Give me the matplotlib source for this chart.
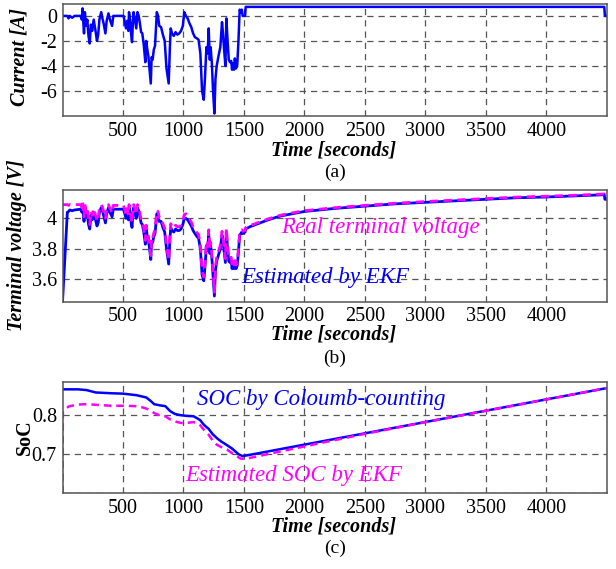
import matplotlib
matplotlib.use("Agg")
import matplotlib.pyplot as plt

plt.rcParams['font.family'] = ['Liberation Serif', 'DejaVu Serif']

# ---------------- data ----------------
cur_t = [0, 40, 50, 60, 80, 100, 150, 160, 166, 172, 178, 185, 195, 205, 215, 225, 235, 245, 258, 270,
         285, 295, 305, 320, 330, 340, 355, 365, 380, 392, 410, 420, 505, 515, 525, 535, 545, 550, 560, 568,
         575, 582, 588, 600, 610, 620, 630, 640, 650, 660, 672, 685, 692, 700, 710, 720, 730, 737, 745, 755,
         765, 780, 790, 800, 815, 830, 845, 860, 878, 888, 895, 905, 920, 935, 950, 965, 980, 995, 1007, 1020,
         1035, 1050, 1065, 1080, 1095, 1112, 1125, 1140, 1154, 1168, 1178, 1190, 1200, 1209, 1218, 1225, 1235, 1245, 1256, 1265,
         1275, 1290, 1305, 1319, 1328, 1335, 1347, 1355, 1365, 1375, 1385, 1395, 1402, 1410, 1418, 1425, 1435, 1445, 1455, 1465,
         1475, 1482, 1490, 1510, 1515, 4480, 4485, 4500]
cur_a = [0, 0, -0.2, 0, -0.15, 0, 0, -0.3, 0.6, -0.5, -1.4, 0.3, -0.8, -0.3, -1.6, -2.2, -0.7, -1.2, -0.3, -1.0,
         -2.0, -1.5, -0.3, 0.3, -0.2, -0.6, -1.4, -0.4, 0.2, -0.3, -0.8, 0, 0, -0.5, -1.0, -0.4, -1.2, 0.3, -0.4, -1.5,
         -2.1, -0.5, 0.3, -0.4, -1.0, 0.3, 0, -0.6, -1.3, -1.4, -2.3, -3.7, -2.0, -2.6, -3.2, -4.3, -5.4, -3.3, -3.5, -2.7,
         -2.4, 0.3, 0, -0.8, -0.9, -1.5, -2.0, -4.2, -5.4, -2.5, -1.0, -1.4, -1.6, -1.3, -1.5, -1.4, -1.2, -0.8, 0.3, 0.0,
         -0.2, -0.6, -0.9, -1.4, -1.7, -1.8, -1.9, -3.0, -6.0, -6.7, -5.0, -2.5, -3.0, -1.0, -3.5, -2.5, -3.8, -6.0, -7.8, -5.0,
         -4.0, -3.2, -2.5, -0.5, -1.5, -2.5, -4.0, -0.2, -2.0, -3.5, -3.7, -3.6, -4.3, -3.8, -4.3, -3.4, -4.2, -3.9, -2.0, 0.5,
         0.3, 0.5, 0.0, 0.0, 0.72, 0.72, 0, 0]

volt_t = cur_t[:-3] + [1550, 1600, 1700, 1800, 1900, 2000, 2250, 2500, 2750, 3000, 3250, 3500, 3750, 4000,
                       4250, 4480, 4485, 4500]
volt_est = [3.45, 4.04, 4.045, 4.055, 4.05, 4.055, 4.06, 4.04, 4.085, 4.03, 3.98, 4.07, 4.01, 4.04, 3.96, 3.93, 4.02, 3.99, 4.04, 4.0,
            3.95, 3.97, 4.04, 4.07, 4.05, 4.02, 3.97, 4.03, 4.07, 4.04, 4.01, 4.06, 4.06, 4.03, 4.0, 4.04, 3.99, 4.07, 4.03, 3.97,
            3.94, 4.03, 4.07, 4.03, 4.0, 4.07, 4.05, 4.01, 3.97, 3.96, 3.91, 3.83, 3.93, 3.89, 3.86, 3.80, 3.73, 3.85, 3.84, 3.88,
            3.90, 4.03, 4.02, 3.98, 3.98, 3.94, 3.91, 3.80, 3.70, 3.86, 3.94, 3.92, 3.91, 3.93, 3.92, 3.92, 3.93, 3.96, 4.00, 4.0,
            3.99, 3.97, 3.95, 3.92, 3.90, 3.88, 3.87, 3.80, 3.63, 3.59, 3.68, 3.82, 3.79, 3.90, 3.77, 3.82, 3.74, 3.62, 3.49, 3.66,
            3.72, 3.76, 3.80, 3.89, 3.84, 3.79, 3.71, 3.91, 3.80, 3.72, 3.71, 3.72, 3.67, 3.70, 3.67, 3.72, 3.67, 3.69, 3.78, 3.89,
            3.90, 3.91, 3.90, 3.91, 3.93,
            3.945, 3.96, 3.99, 4.015, 4.03, 4.045, 4.065, 4.08, 4.095, 4.105, 4.115, 4.125, 4.135, 4.14,
            4.148, 4.155, 4.125, 4.125]
volt_real = [4.09, 4.09, 4.085, 4.09, 4.085, 4.09, 4.09, 4.07, 4.105, 4.06, 4.01, 4.095, 4.04, 4.065, 3.99, 3.96, 4.045, 4.02, 4.065, 4.03,
             3.98, 4.0, 4.065, 4.09, 4.075, 4.045, 4.0, 4.055, 4.09, 4.065, 4.035, 4.085, 4.085, 4.055, 4.025, 4.065, 4.02, 4.09, 4.055, 4.0,
             3.97, 4.055, 4.09, 4.055, 4.025, 4.09, 4.075, 4.035, 3.995, 3.985, 3.935, 3.855, 3.955, 3.915, 3.885, 3.825, 3.755, 3.875, 3.865, 3.905,
             3.925, 4.05, 4.045, 4.005, 4.005, 3.965, 3.935, 3.825, 3.725, 3.885, 3.965, 3.945, 3.935, 3.955, 3.945, 3.945, 3.955, 3.985, 4.025, 4.03,
             4.015, 3.995, 3.975, 3.945, 3.925, 3.905, 3.895, 3.825, 3.655, 3.615, 3.705, 3.845, 3.815, 3.925, 3.795, 3.845, 3.765, 3.645, 3.515, 3.685,
             3.745, 3.785, 3.825, 3.915, 3.865, 3.815, 3.735, 3.935, 3.825, 3.745, 3.735, 3.745, 3.695, 3.725, 3.695, 3.745, 3.695, 3.715, 3.805, 3.915,
             3.92, 3.925, 3.915, 3.92, 3.94,
             3.952, 3.967, 3.996, 4.02, 4.036, 4.05, 4.07, 4.085, 4.099, 4.11, 4.12, 4.13, 4.139, 4.145,
             4.152, 4.16, 4.13, 4.13]

soc_cc_t = [0, 130, 200, 275, 400, 500, 613, 694, 730, 758, 806, 850, 891, 930, 974, 1030, 1084, 1113, 1139, 1170,
            1208, 1240, 1277, 1310, 1346, 1400, 1456, 1490, 4480, 4500]
soc_cc = [0.866, 0.866, 0.864, 0.858, 0.856, 0.855, 0.851, 0.845, 0.836, 0.828, 0.825, 0.823, 0.81, 0.803, 0.80, 0.798, 0.797, 0.792, 0.787, 0.775,
          0.765, 0.752, 0.741, 0.733, 0.726, 0.715, 0.70, 0.695, 0.868, 0.869]
soc_ekf_t = [0, 3, 50, 120, 200, 300, 400, 500, 600, 660, 700, 726, 760, 808, 850, 891, 950, 1001, 1050, 1084,
             1110, 1139, 1170, 1208, 1240, 1277, 1320, 1360, 1400, 1443, 1470, 1510, 2000, 2500, 3000, 3500, 4000, 4480, 4500]
soc_ekf = [0.60, 0.81, 0.822, 0.827, 0.828, 0.826, 0.824, 0.824, 0.823, 0.82, 0.816, 0.812, 0.805, 0.799, 0.797, 0.789, 0.782, 0.779, 0.781, 0.782,
           0.78, 0.774, 0.762, 0.75, 0.736, 0.724, 0.717, 0.712, 0.703, 0.695, 0.689, 0.688, 0.72, 0.752, 0.782, 0.811, 0.84, 0.868, 0.869]

xticks = [500, 1000, 1500, 2000, 2500, 3000, 3500, 4000]

# ---------------- figure ----------------
W, H = 616, 569
fig = plt.figure(figsize=(W / 100, H / 100), dpi=100)

def px_axes(left, top, right, bottom):
    return fig.add_axes([left / W, 1 - bottom / H, (right - left) / W, (bottom - top) / H])

BLUE = '#0000ff'
MAG = '#ff00ff'
GRID = '#555555'

def style(ax, yticks, ylabels, ylim):
    ax.set_xlim(0, 4500)
    ax.set_ylim(*ylim)
    ax.set_xticks(xticks)
    ax.set_xticklabels([str(v) for v in xticks], fontsize=14.5)
    ax.set_yticks(yticks)
    ax.set_yticklabels(ylabels, fontsize=14.5)
    ax.tick_params(length=0, pad=4)
    ax.grid(True, linestyle=(0, (5, 4)), color=GRID, linewidth=0.9)
    for s in ax.spines.values():
        s.set_color('#555555')
        s.set_linewidth(1.1)

lab_kw = dict(fontsize=14.5, fontweight='bold', fontstyle='italic', ha='center', va='center')

# (a)
ax1 = px_axes(62.5, 4, 606.7, 116)
ax1.plot(cur_t, cur_a, color=BLUE, lw=1.8)
style(ax1, [0, -2, -4, -6], ['0', '-2', '-4', '-6'], (-8, 0.95))
fig.text(20 / W, 1 - 57 / H, 'Current [A]', rotation=90, **lab_kw)
fig.text(334 / W, 1 - 150 / H, 'Time [seconds]', **lab_kw)
fig.text(335 / W, 1 - 172 / H, '(a)', fontsize=14, ha='center', va='center')

# (b)
ax2 = px_axes(62.5, 190, 606.7, 301.7)
ax2.plot(volt_t, volt_est, color=BLUE, lw=2.0)
ax2.plot(volt_t, volt_real, color=MAG, lw=2.0, linestyle=(0, (3, 2)))
style(ax2, [3.6, 3.8, 4.0], ['3.6', '3.8', '4'], (3.453, 4.186))
ax2.text(380 / W, 1 - 228 / H, 'Real terminal voltage', transform=fig.transFigure,
         color=MAG, fontsize=16.5, fontstyle='italic', ha='center', va='center')
ax2.text(325 / W, 1 - 278 / H, 'Estimated by EKF', transform=fig.transFigure,
         color=BLUE, fontsize=16.5, fontstyle='italic', ha='center', va='center')
fig.text(17 / W, 1 - 245 / H, 'Terminal voltage [V]', rotation=90, **lab_kw)
fig.text(334 / W, 1 - 335 / H, 'Time [seconds]', **lab_kw)
fig.text(335 / W, 1 - 358 / H, '(b)', fontsize=14, ha='center', va='center')

# (c)
ax3 = px_axes(62.5, 382.3, 606.7, 493.3)
ax3.plot(soc_cc_t, soc_cc, color=BLUE, lw=1.8)
ax3.plot(soc_ekf_t, soc_ekf, color=MAG, lw=1.8, linestyle=(0, (3, 2)))
style(ax3, [0.6, 0.7, 0.8], ['', '0.7', '0.8'], (0.6, 0.884))
ax3.text(321 / W, 1 - 400 / H, 'SOC by Coloumb-counting', transform=fig.transFigure,
         color=BLUE, fontsize=16.5, fontstyle='italic', ha='center', va='center')
ax3.text(294 / W, 1 - 476 / H, 'Estimated SOC by EKF', transform=fig.transFigure,
         color=MAG, fontsize=16.5, fontstyle='italic', ha='center', va='center')
fig.text(25 / W, 1 - 437 / H, 'SoC', rotation=90, fontsize=14.5, fontweight='bold',
         ha='center', va='center')
fig.text(334 / W, 1 - 527 / H, 'Time [seconds]', **lab_kw)
fig.text(335 / W, 1 - 548 / H, '(c)', fontsize=14, ha='center', va='center')

fig.savefig('out.png', dpi=100)
